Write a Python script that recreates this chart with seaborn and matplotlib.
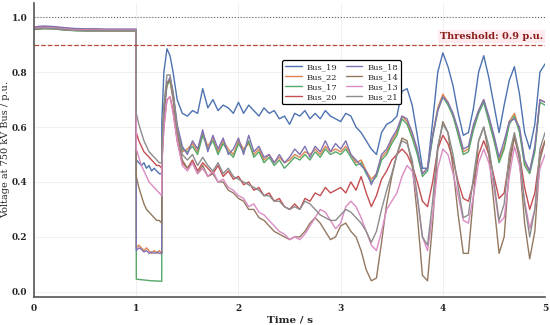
import numpy as np
import pandas as pd
import matplotlib
matplotlib.use("Agg")
import matplotlib.pyplot as plt
import seaborn as sns

# time axis: pre-fault, fault, post-fault
t_pre = [0.0, 0.05, 0.1, 0.2, 0.3, 0.4, 0.5, 0.6, 0.7, 0.8, 0.9, 0.999]
t_fault = [1.0, 1.025, 1.05, 1.075, 1.1, 1.125, 1.15, 1.175, 1.2, 1.225, 1.249]
t_post = [1.25, 1.27, 1.3, 1.33, 1.36, 1.4, 1.45,
          1.5, 1.55, 1.6, 1.65, 1.7, 1.75, 1.8, 1.85, 1.9, 1.95,
          2.0, 2.05, 2.1, 2.15, 2.2, 2.25, 2.3, 2.35, 2.4, 2.45,
          2.5, 2.55, 2.6, 2.65, 2.7, 2.75, 2.8, 2.85, 2.9, 2.95,
          3.0, 3.05, 3.1, 3.15, 3.2, 3.25, 3.3, 3.35, 3.4, 3.45,
          3.5, 3.55, 3.6, 3.65, 3.7, 3.75, 3.8, 3.85, 3.9, 3.95,
          4.0, 4.05, 4.1, 4.15, 4.2, 4.25, 4.3, 4.35, 4.4, 4.45,
          4.5, 4.55, 4.6, 4.65, 4.7, 4.75, 4.8, 4.85, 4.9, 4.95,
          5.0]
time = t_pre + t_fault + t_post

buses = ["Bus_19", "Bus_22", "Bus_17", "Bus_20", "Bus_18", "Bus_14", "Bus_13", "Bus_21"]

bus_19 = ([0.960, 0.962, 0.963, 0.962, 0.958, 0.955, 0.954, 0.954, 0.954, 0.954, 0.954, 0.954]
          + [0.48, 0.47, 0.46, 0.47, 0.45, 0.46, 0.44, 0.45, 0.44, 0.43, 0.43]
          + [0.62, 0.80, 0.885, 0.86, 0.80, 0.70, 0.65,
             0.64, 0.66, 0.65, 0.74, 0.67, 0.70, 0.66, 0.68, 0.67, 0.65,
             0.69, 0.65, 0.68, 0.66, 0.64, 0.67, 0.65, 0.66, 0.63, 0.64,
             0.61, 0.65, 0.64, 0.66, 0.63, 0.65, 0.63, 0.66, 0.64, 0.63,
             0.62, 0.65, 0.64, 0.60, 0.58, 0.55, 0.52, 0.50, 0.58, 0.61,
             0.62, 0.64, 0.73, 0.74, 0.68, 0.57, 0.45, 0.45, 0.62, 0.80,
             0.87, 0.82, 0.75, 0.65, 0.57, 0.58, 0.67, 0.80, 0.86, 0.78,
             0.68, 0.58, 0.68, 0.77, 0.82, 0.72, 0.58, 0.52, 0.61, 0.80,
             0.83])

bus_22 = ([0.962, 0.965, 0.966, 0.964, 0.960, 0.957, 0.956, 0.956, 0.955, 0.955, 0.955, 0.955]
          + [0.16, 0.17, 0.16, 0.15, 0.16, 0.15, 0.14, 0.15, 0.14, 0.15, 0.14]
          + [0.52, 0.67, 0.76, 0.77, 0.71, 0.59, 0.51,
             0.52, 0.54, 0.51, 0.58, 0.53, 0.56, 0.51, 0.55, 0.52, 0.50,
             0.55, 0.52, 0.54, 0.50, 0.52, 0.48, 0.50, 0.47, 0.49, 0.47,
             0.48, 0.50, 0.49, 0.51, 0.50, 0.52, 0.50, 0.53, 0.51, 0.52,
             0.51, 0.53, 0.50, 0.47, 0.48, 0.44, 0.41, 0.43, 0.49, 0.51,
             0.55, 0.58, 0.64, 0.62, 0.57, 0.51, 0.43, 0.45, 0.57, 0.67,
             0.72, 0.69, 0.64, 0.58, 0.51, 0.52, 0.60, 0.66, 0.70, 0.63,
             0.56, 0.48, 0.53, 0.62, 0.65, 0.59, 0.47, 0.44, 0.52, 0.70,
             0.69])

bus_17 = ([0.955, 0.957, 0.958, 0.957, 0.953, 0.951, 0.950, 0.950, 0.950, 0.950, 0.950, 0.950]
          + [0.046, 0.045, 0.044, 0.043, 0.042, 0.041, 0.040, 0.040, 0.039, 0.039, 0.038]
          + [0.50, 0.66, 0.75, 0.77, 0.72, 0.60, 0.52,
             0.51, 0.53, 0.50, 0.57, 0.52, 0.55, 0.50, 0.54, 0.51, 0.49,
             0.54, 0.51, 0.55, 0.49, 0.51, 0.47, 0.49, 0.46, 0.48, 0.45,
             0.47, 0.49, 0.48, 0.50, 0.48, 0.51, 0.49, 0.52, 0.50, 0.51,
             0.50, 0.52, 0.49, 0.46, 0.47, 0.43, 0.40, 0.42, 0.48, 0.50,
             0.54, 0.57, 0.63, 0.61, 0.56, 0.50, 0.42, 0.44, 0.56, 0.66,
             0.71, 0.68, 0.64, 0.57, 0.50, 0.51, 0.59, 0.65, 0.69, 0.62,
             0.55, 0.47, 0.52, 0.61, 0.64, 0.58, 0.46, 0.43, 0.51, 0.69,
             0.68])

bus_20 = ([0.958, 0.960, 0.961, 0.960, 0.956, 0.953, 0.952, 0.952, 0.952, 0.952, 0.952, 0.952]
          + [0.58, 0.55, 0.53, 0.51, 0.50, 0.49, 0.48, 0.47, 0.46, 0.46, 0.45]
          + [0.47, 0.60, 0.70, 0.71, 0.66, 0.55, 0.47,
             0.45, 0.48, 0.44, 0.47, 0.45, 0.43, 0.46, 0.42, 0.44, 0.41,
             0.42, 0.39, 0.40, 0.37, 0.38, 0.35, 0.36, 0.33, 0.34, 0.31,
             0.30, 0.32, 0.30, 0.34, 0.33, 0.36, 0.35, 0.38, 0.36, 0.37,
             0.38, 0.36, 0.40, 0.37, 0.42, 0.36, 0.31, 0.35, 0.41, 0.44,
             0.48, 0.50, 0.52, 0.50, 0.46, 0.40, 0.33, 0.31, 0.40, 0.52,
             0.57, 0.54, 0.48, 0.40, 0.34, 0.33, 0.40, 0.50, 0.55, 0.50,
             0.42, 0.34, 0.36, 0.48, 0.56, 0.50, 0.38, 0.30, 0.36, 0.50,
             0.55])

bus_18 = ([0.964, 0.967, 0.968, 0.966, 0.962, 0.959, 0.958, 0.958, 0.957, 0.957, 0.957, 0.957]
          + [0.15, 0.16, 0.155, 0.145, 0.15, 0.14, 0.145, 0.14, 0.145, 0.14, 0.14]
          + [0.51, 0.65, 0.76, 0.78, 0.73, 0.61, 0.53,
             0.50, 0.55, 0.52, 0.59, 0.51, 0.57, 0.52, 0.56, 0.50, 0.52,
             0.56, 0.50, 0.57, 0.51, 0.53, 0.49, 0.50, 0.47, 0.50, 0.47,
             0.49, 0.52, 0.50, 0.53, 0.49, 0.53, 0.51, 0.55, 0.51, 0.54,
             0.52, 0.55, 0.50, 0.48, 0.46, 0.44, 0.39, 0.43, 0.50, 0.52,
             0.56, 0.59, 0.64, 0.63, 0.58, 0.52, 0.43, 0.45, 0.57, 0.66,
             0.71, 0.69, 0.65, 0.59, 0.52, 0.53, 0.61, 0.66, 0.70, 0.64,
             0.57, 0.49, 0.55, 0.62, 0.63, 0.60, 0.48, 0.44, 0.53, 0.70,
             0.69])

bus_14 = ([0.956, 0.958, 0.959, 0.958, 0.954, 0.952, 0.951, 0.951, 0.951, 0.951, 0.951, 0.951]
          + [0.42, 0.38, 0.35, 0.32, 0.30, 0.29, 0.28, 0.27, 0.26, 0.26, 0.25]
          + [0.48, 0.66, 0.76, 0.77, 0.70, 0.58, 0.48,
             0.45, 0.47, 0.43, 0.46, 0.42, 0.43, 0.40, 0.40, 0.37, 0.36,
             0.34, 0.33, 0.30, 0.30, 0.27, 0.26, 0.24, 0.22, 0.21, 0.20,
             0.19, 0.20, 0.20, 0.22, 0.25, 0.27, 0.25, 0.22, 0.19, 0.20,
             0.24, 0.25, 0.22, 0.20, 0.15, 0.08, 0.04, 0.05, 0.18, 0.32,
             0.42, 0.50, 0.56, 0.55, 0.46, 0.28, 0.06, 0.04, 0.25, 0.52,
             0.62, 0.58, 0.45, 0.28, 0.14, 0.14, 0.35, 0.55, 0.60, 0.50,
             0.32, 0.14, 0.20, 0.45, 0.57, 0.48, 0.25, 0.12, 0.22, 0.48,
             0.55])

bus_13 = ([0.959, 0.961, 0.962, 0.961, 0.957, 0.954, 0.953, 0.953, 0.953, 0.953, 0.953, 0.953]
          + [0.52, 0.49, 0.46, 0.44, 0.42, 0.40, 0.39, 0.38, 0.37, 0.36, 0.35]
          + [0.46, 0.60, 0.70, 0.71, 0.65, 0.55, 0.46,
             0.44, 0.47, 0.43, 0.45, 0.42, 0.44, 0.40, 0.41, 0.38, 0.37,
             0.35, 0.34, 0.31, 0.32, 0.29, 0.28, 0.26, 0.24, 0.22, 0.21,
             0.19, 0.20, 0.19, 0.21, 0.24, 0.27, 0.30, 0.29, 0.26, 0.23,
             0.25, 0.31, 0.33, 0.31, 0.27, 0.22, 0.17, 0.15, 0.22, 0.30,
             0.33, 0.36, 0.42, 0.46, 0.44, 0.34, 0.20, 0.15, 0.28, 0.45,
             0.52, 0.50, 0.43, 0.35, 0.26, 0.25, 0.35, 0.47, 0.52, 0.47,
             0.38, 0.25, 0.27, 0.42, 0.53, 0.46, 0.33, 0.23, 0.30, 0.45,
             0.50])

bus_21 = ([0.957, 0.959, 0.960, 0.959, 0.955, 0.952, 0.951, 0.951, 0.951, 0.951, 0.951, 0.951]
          + [0.65, 0.61, 0.58, 0.55, 0.53, 0.51, 0.50, 0.49, 0.48, 0.47, 0.47]
          + [0.50, 0.68, 0.79, 0.79, 0.72, 0.60, 0.50,
             0.48, 0.50, 0.46, 0.49, 0.46, 0.44, 0.47, 0.43, 0.45, 0.42,
             0.41, 0.40, 0.39, 0.38, 0.37, 0.35, 0.35, 0.33, 0.33, 0.31,
             0.30, 0.31, 0.30, 0.33, 0.32, 0.30, 0.28, 0.27, 0.26, 0.26,
             0.28, 0.30, 0.29, 0.27, 0.25, 0.22, 0.18, 0.22, 0.30, 0.37,
             0.43, 0.50, 0.55, 0.54, 0.48, 0.35, 0.20, 0.17, 0.33, 0.53,
             0.61, 0.58, 0.50, 0.38, 0.27, 0.28, 0.42, 0.55, 0.60, 0.53,
             0.40, 0.26, 0.32, 0.50, 0.58, 0.50, 0.32, 0.20, 0.30, 0.52,
             0.58])

series = {"Bus_19": bus_19, "Bus_22": bus_22, "Bus_17": bus_17, "Bus_20": bus_20,
          "Bus_18": bus_18, "Bus_14": bus_14, "Bus_13": bus_13, "Bus_21": bus_21}

threshold = 0.9
nominal = 1.0

df = pd.concat([pd.DataFrame({"time": time, "voltage": v, "bus": b}) for b, v in series.items()],
               ignore_index=True)

sns.set_theme(style="whitegrid")
plt.rcParams["font.family"] = ["DejaVu Serif"]

fig, ax = plt.subplots(figsize=(5.5, 3.25), dpi=100)
fig.subplots_adjust(left=0.062, right=0.991, bottom=0.087, top=0.99)

sns.lineplot(data=df, x="time", y="voltage", hue="bus", hue_order=buses,
             palette="deep", linewidth=1.0, estimator=None, sort=False, ax=ax)

ax.axhline(nominal, color="#666666", linestyle=":", linewidth=0.8)
ax.axhline(threshold, color="#b5493a", linestyle="--", linewidth=0.9)
ax.text(4.98, threshold + 0.012, "Threshold: 0.9 p.u.", ha="right", va="bottom",
        fontsize=7, fontweight="bold", color="#8b1a1a",
        bbox=dict(facecolor="#ffe6ea", edgecolor="none", alpha=0.8, pad=1.5))

ax.set_xlim(0, 5)
ax.set_ylim(-0.018, 1.051)
ax.set_xticks([0, 1, 2, 3, 4, 5])
ax.set_yticks([0.0, 0.2, 0.4, 0.6, 0.8, 1.0])
ax.set_xlabel("Time / s", fontsize=7.5, fontweight="bold", labelpad=2)
ax.set_ylabel("Voltage at 750 kV Bus / p.u.", fontsize=7, labelpad=1)
ax.tick_params(axis="both", labelsize=6.5, length=3, width=0.8, pad=2, color="#444444")
for lab in ax.get_xticklabels() + ax.get_yticklabels():
    lab.set_fontweight("bold")
ax.grid(True, color="#eeeeee", linewidth=0.6)
sns.despine(ax=ax)
for s in ["left", "bottom"]:
    ax.spines[s].set_color("#555555")
    ax.spines[s].set_linewidth(1.2)

leg = ax.legend(ncol=2, loc="upper left", bbox_to_anchor=(0.477, 0.82), fontsize=6,
                frameon=True, fancybox=True, edgecolor="black", framealpha=1,
                handlelength=2.0, columnspacing=1.0, labelspacing=0.25, borderpad=0.35,
                handletextpad=0.6)
leg.get_frame().set_linewidth(0.9)

fig.savefig("out.png", dpi=100)
